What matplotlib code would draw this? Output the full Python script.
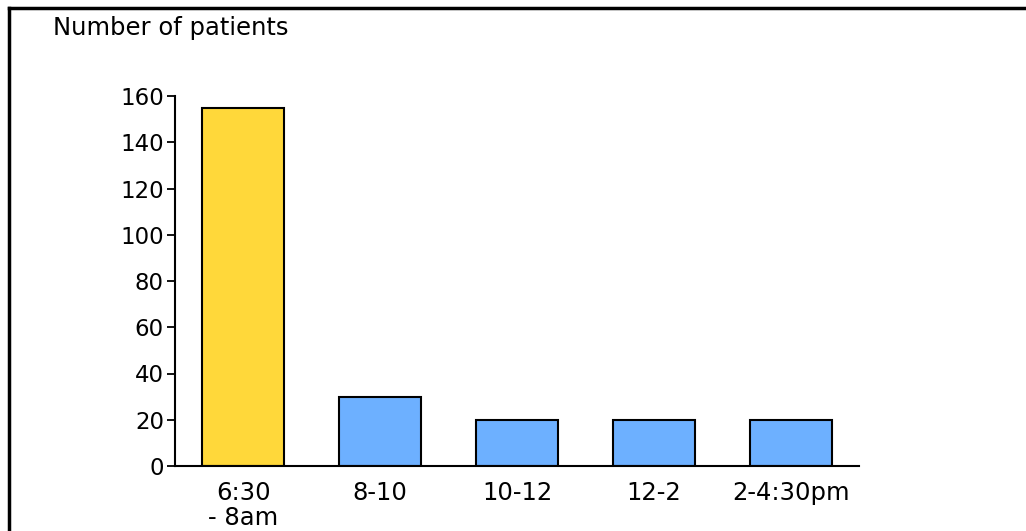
import matplotlib
matplotlib.use('Agg')
import matplotlib.pyplot as plt
from matplotlib.lines import Line2D

plt.rcParams['font.family'] = ['DejaVu Sans']

periods = ['6:30\n- 8am', '8-10', '10-12', '12-2', '2-4:30pm']
patients = [155, 30, 20, 20, 20]
bar_colors = ['#FFD83A', '#6DB0FF', '#6DB0FF', '#6DB0FF', '#6DB0FF']
yticks = [0, 20, 40, 60, 80, 100, 120, 140, 160]

W, H = 1026, 531
fig = plt.figure(figsize=(W / 100, H / 100), dpi=100)
ax = fig.add_axes([175 / W, 1 - 466 / H, 684 / W, 370 / H])

x = range(len(periods))
ax.bar(x, patients, width=0.6, color=bar_colors, edgecolor='black', linewidth=1.5)
ax.set_xlim(-0.5, len(periods) - 0.5)
ax.set_ylim(0, 160)
ax.set_yticks(yticks)
ax.set_xticks(list(x))
ax.set_xticklabels(periods, fontsize=17.5, linespacing=1.1)
ax.tick_params(axis='x', length=0, pad=10.5)
ax.tick_params(axis='y', length=6, width=1.3, labelsize=16.5, pad=2)
for s in ['top', 'right']:
    ax.spines[s].set_visible(False)
ax.spines['left'].set_linewidth(1.5)
ax.spines['bottom'].set_linewidth(1.5)

fig.text(53 / W, 1 - 28 / H, 'Number of patients', fontsize=17.5, va='center', ha='left')

# outer frame (left and top edges)
fig.add_artist(Line2D([9 / W, 9 / W], [0, 1 - 8 / H], transform=fig.transFigure, color='black', linewidth=2.5))
fig.add_artist(Line2D([9 / W, 1], [1 - 8 / H, 1 - 8 / H], transform=fig.transFigure, color='black', linewidth=2.5))

fig.savefig('out.png', dpi=100)
